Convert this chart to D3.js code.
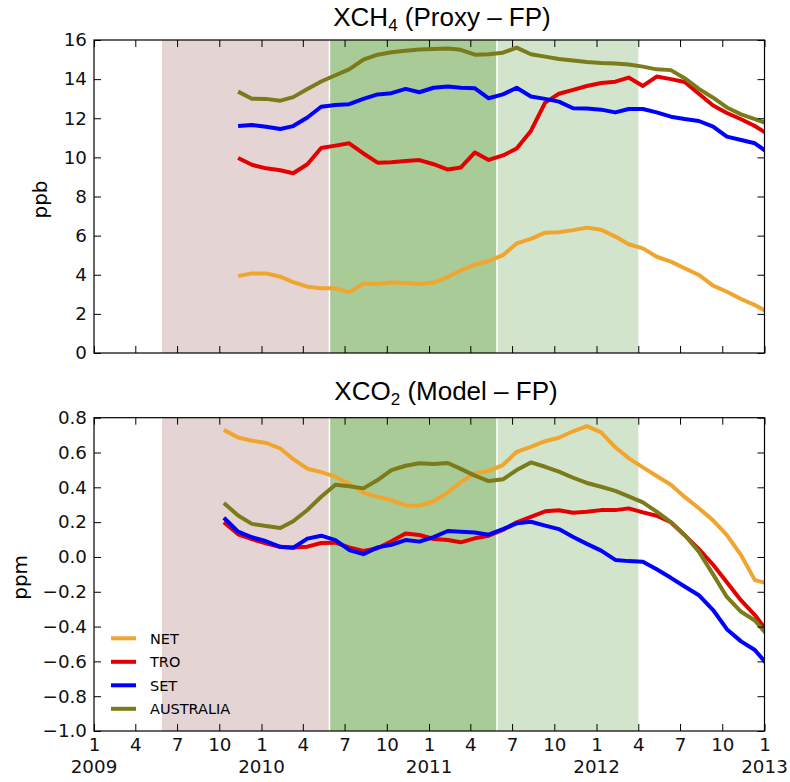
<!DOCTYPE html>
<html><head><meta charset="utf-8">
<script src="https://cdn.jsdelivr.net/npm/d3@7"></script>
<style>body{margin:0;background:#fff}</style>
</head><body>
<svg id="chart" width="790" height="782"></svg>
<script>
// ---------- DATA ----------
const co2Months = ["2009-10","2009-11","2009-12","2010-01","2010-02","2010-03","2010-04","2010-05","2010-06","2010-07","2010-08","2010-09","2010-10","2010-11","2010-12","2011-01","2011-02","2011-03","2011-04","2011-05","2011-06","2011-07","2011-08","2011-09","2011-10","2011-11","2011-12","2012-01","2012-02","2012-03","2012-04","2012-05","2012-06","2012-07","2012-08","2012-09","2012-10","2012-11","2012-12","2013-01"];
const ch4Months = ["2009-11","2009-12","2010-01","2010-02","2010-03","2010-04","2010-05","2010-06","2010-07","2010-08","2010-09","2010-10","2010-11","2010-12","2011-01","2011-02","2011-03","2011-04","2011-05","2011-06","2011-07","2011-08","2011-09","2011-10","2011-11","2011-12","2012-01","2012-02","2012-03","2012-04","2012-05","2012-06","2012-07","2012-08","2012-09","2012-10","2012-11","2012-12","2013-01"];

const seriesNames = ["NET","TRO","SET","AUSTRALIA"];

const ch4NET = [3.93,4.07,4.07,3.9,3.62,3.39,3.31,3.31,3.1,3.55,3.53,3.6,3.58,3.53,3.6,3.88,4.22,4.52,4.7,5.0,5.6,5.83,6.15,6.17,6.28,6.41,6.3,5.95,5.56,5.35,4.92,4.67,4.33,3.99,3.44,3.13,2.76,2.45,2.05];
const ch4TRO = [9.97,9.62,9.44,9.34,9.19,9.65,10.48,10.6,10.72,10.2,9.73,9.75,9.82,9.86,9.65,9.38,9.48,10.25,9.87,10.1,10.45,11.35,12.8,13.25,13.45,13.65,13.8,13.87,14.08,13.65,14.13,14.0,13.85,13.25,12.65,12.27,11.95,11.6,11.15];
const ch4SET = [11.6,11.66,11.57,11.45,11.6,12.04,12.59,12.68,12.72,12.99,13.22,13.28,13.5,13.33,13.56,13.62,13.56,13.53,13.02,13.22,13.56,13.11,12.99,12.85,12.51,12.5,12.44,12.3,12.47,12.47,12.3,12.08,11.96,11.86,11.57,11.06,10.89,10.72,10.2];
const ch4AUS = [13.36,13.0,12.99,12.9,13.08,13.5,13.88,14.2,14.5,15.0,15.25,15.37,15.45,15.52,15.54,15.57,15.5,15.25,15.27,15.35,15.61,15.27,15.15,15.03,14.95,14.87,14.82,14.8,14.75,14.64,14.5,14.46,14.05,13.5,13.05,12.55,12.2,11.95,11.7];

const co2NET = [0.73,0.686,0.668,0.655,0.623,0.562,0.507,0.487,0.461,0.42,0.37,0.345,0.327,0.296,0.294,0.32,0.37,0.43,0.48,0.494,0.528,0.604,0.633,0.665,0.685,0.722,0.752,0.716,0.63,0.568,0.515,0.465,0.415,0.345,0.28,0.21,0.125,0.01,-0.133,-0.155];
const co2TRO = [0.2,0.13,0.102,0.078,0.057,0.054,0.059,0.08,0.082,0.055,0.034,0.05,0.09,0.135,0.126,0.103,0.097,0.084,0.107,0.122,0.155,0.199,0.23,0.262,0.268,0.254,0.26,0.269,0.269,0.279,0.256,0.237,0.199,0.125,0.045,-0.045,-0.145,-0.25,-0.334,-0.44];
const co2SET = [0.225,0.145,0.113,0.09,0.058,0.053,0.105,0.122,0.097,0.04,0.016,0.055,0.07,0.097,0.088,0.114,0.149,0.145,0.141,0.128,0.16,0.193,0.202,0.18,0.16,0.115,0.075,0.036,-0.017,-0.024,-0.028,-0.071,-0.12,-0.17,-0.22,-0.305,-0.415,-0.485,-0.535,-0.63];
const co2AUS = [0.31,0.238,0.19,0.178,0.166,0.205,0.27,0.346,0.415,0.406,0.394,0.442,0.499,0.524,0.538,0.534,0.54,0.506,0.467,0.436,0.446,0.499,0.543,0.518,0.49,0.455,0.425,0.403,0.38,0.348,0.314,0.26,0.2,0.126,0.03,-0.1,-0.23,-0.315,-0.365,-0.46];

const periodBounds = ["2009-05-29","2010-05-29","2011-05-29","2012-04-01"];
const ch4Ticks = [0,2,4,6,8,10,12,14,16];
const co2Ticks = [-1.0,-0.8,-0.6,-0.4,-0.2,0.0,0.2,0.4,0.6,0.8];
const xDomain = ["2009-01-01","2013-01-01"];

// ---------- STYLE ----------
const colors = {NET:"#f0a52e", TRO:"#e40000", SET:"#0000ff", AUSTRALIA:"#7b7b1a"};
const periodColors = ["#e4d4d4","#a8cb98","#d2e4cc"];
const tickFont = "'DejaVu Sans', sans-serif";
const titleFont = "'Liberation Sans', Arial, sans-serif";
const tickSize = 18.3;
const lineW = 4;

const svg = d3.select("#chart");
const parseDay = d3.timeParse("%Y-%m-%d");
const parseMonth = d3.timeParse("%Y-%m");
const toDate = s => d3.timeDay.offset(parseMonth(s), 10);

const L = 94, R = 764.5;
const x = d3.scaleTime().domain(xDomain.map(parseDay)).range([L, R]);

const panels = [
  {top:40, bottom:353, domain:[0,16], ticks:ch4Ticks, fmt:d3.format("d"),
   months:ch4Months, data:{NET:ch4NET,TRO:ch4TRO,SET:ch4SET,AUSTRALIA:ch4AUS},
   title:["XCH","4"," (Proxy \u2013 FP)"], titleX:442, titleY:26,
   ylabel:"ppb", ylabelX:47, showX:false, legend:false},
  {top:417.7, bottom:731, domain:[-1,0.8], ticks:co2Ticks, fmt:d3.format(".1f"),
   months:co2Months, data:{NET:co2NET,TRO:co2TRO,SET:co2SET,AUSTRALIA:co2AUS},
   title:["XCO","2"," (Model \u2013 FP)"], titleX:446, titleY:400,
   ylabel:"ppm", ylabelX:27, showX:true, legend:true}
];

const xTicks = d3.timeMonth.every(3).range(x.domain()[0], d3.timeDay.offset(x.domain()[1],1));

panels.forEach((p, pi) => {
  const y = d3.scaleLinear().domain(p.domain).range([p.bottom, p.top]);
  const g = svg.append("g");
  const clipId = "clip" + pi;
  svg.append("clipPath").attr("id", clipId).append("rect")
    .attr("x", L).attr("y", p.top).attr("width", R - L).attr("height", p.bottom - p.top);

  // shaded periods
  const bounds = periodBounds.map(parseDay);
  for (let i = 0; i < bounds.length - 1; i++) {
    g.append("rect").attr("x", x(bounds[i])).attr("y", p.top)
      .attr("width", x(bounds[i+1]) - x(bounds[i])).attr("height", p.bottom - p.top)
      .attr("fill", periodColors[i]);
  }
  [bounds[1], bounds[2]].forEach(b => {
    g.append("line").attr("x1", x(b)).attr("x2", x(b)).attr("y1", p.top).attr("y2", p.bottom)
      .attr("stroke", "#fff").attr("stroke-width", 1.5);
  });

  // lines
  const dates = p.months.map(toDate);
  const lineGen = d3.line().x((d, i) => x(dates[i])).y(d => y(d));
  const lg = g.append("g").attr("clip-path", `url(#${clipId})`);
  seriesNames.forEach(name => {
    lg.append("path").datum(p.data[name]).attr("d", lineGen)
      .attr("fill", "none").attr("stroke", colors[name]).attr("stroke-width", lineW)
      .attr("stroke-linejoin", "round");
  });

  // axes
  const yl = g.append("g").attr("transform", `translate(${L},0)`)
    .call(d3.axisLeft(y).tickValues(p.ticks).tickFormat(p.fmt).tickSizeInner(-7).tickSizeOuter(0).tickPadding(7));
  const yr = g.append("g").attr("transform", `translate(${R},0)`)
    .call(d3.axisRight(y).tickValues(p.ticks).tickFormat("").tickSizeInner(-7).tickSizeOuter(0));
  const xt = g.append("g").attr("transform", `translate(0,${p.top})`)
    .call(d3.axisTop(x).tickValues(xTicks).tickFormat("").tickSizeInner(-7).tickSizeOuter(0));
  const xb = g.append("g").attr("transform", `translate(0,${p.bottom})`)
    .call(d3.axisBottom(x).tickValues(xTicks)
      .tickFormat(p.showX ? (d => d.getMonth() + 1) : "")
      .tickSizeInner(-7).tickSizeOuter(0).tickPadding(7.5));
  [yl, yr, xt, xb].forEach(a => {
    a.select(".domain").remove();
    a.selectAll(".tick line").attr("stroke", "#000").attr("stroke-width", 1);
    a.selectAll("text").attr("font-family", tickFont).attr("font-size", tickSize).attr("fill", "#111");
  });
  if (p.showX) {
    xTicks.filter(d => d.getMonth() === 0).forEach(d => {
      g.append("text").attr("x", x(d)).attr("y", 773.3).attr("text-anchor", "middle")
        .attr("font-family", tickFont).attr("font-size", tickSize).attr("fill", "#111")
        .text(d.getFullYear());
    });
  }

  // frame
  g.append("rect").attr("x", L).attr("y", p.top).attr("width", R - L).attr("height", p.bottom - p.top)
    .attr("fill", "none").attr("stroke", "#000").attr("stroke-width", 1.2);

  // title
  const t = g.append("text").attr("x", p.titleX).attr("y", p.titleY).attr("text-anchor", "middle")
    .attr("font-family", titleFont).attr("font-size", 26).attr("fill", "#000");
  t.append("tspan").text(p.title[0]);
  t.append("tspan").attr("font-size", 17).attr("dy", 5).text(p.title[1]);
  t.append("tspan").attr("dy", -5).text(p.title[2]);

  // y label
  g.append("text").attr("transform", `translate(${p.ylabelX},${(p.top + p.bottom) / 2 + 3}) rotate(-90)`)
    .attr("text-anchor", "middle").attr("font-family", tickFont).attr("font-size", 20).attr("fill", "#000")
    .text(p.ylabel);

  // legend
  if (p.legend) {
    const lgd = g.append("g");
    seriesNames.forEach((name, i) => {
      const yy = 638.3 + i * 23.5;
      lgd.append("line").attr("x1", 111).attr("x2", 136).attr("y1", yy).attr("y2", yy)
        .attr("stroke", colors[name]).attr("stroke-width", lineW);
      lgd.append("text").attr("x", 150).attr("y", yy + 5.2)
        .attr("font-family", tickFont).attr("font-size", 14.5).attr("fill", "#000").text(name);
    });
  }
});
</script>
</body></html>
